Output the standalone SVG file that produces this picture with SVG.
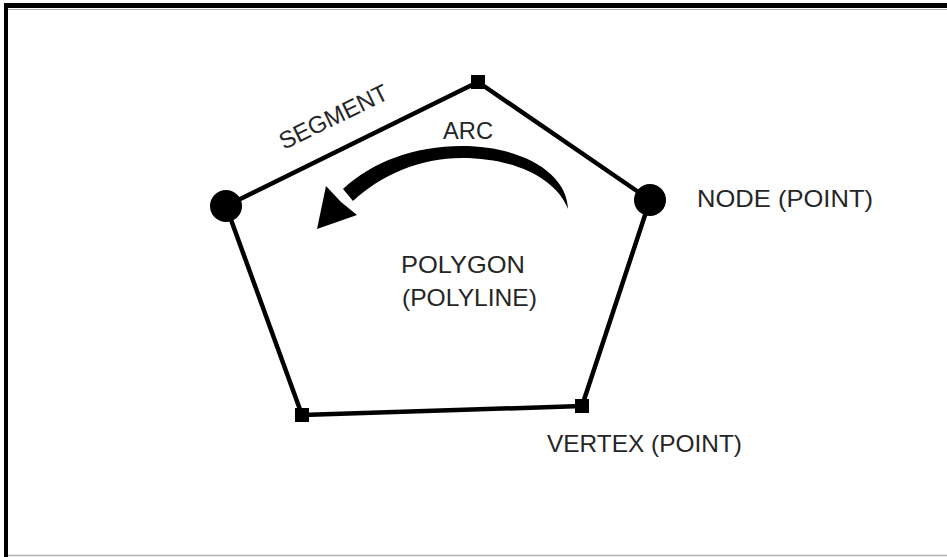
<svg xmlns="http://www.w3.org/2000/svg" width="947" height="557" viewBox="0 0 947 557">
  <style>
    .edge { stroke: #000; stroke-width: 4.5; fill: none; stroke-linecap: round; }
    .node { fill: #000; }
    .label { font-family: "Liberation Sans", Arial, sans-serif; font-size: 24px; fill: #262626; }
  </style>

  <!-- page frame -->
  <rect x="0" y="0" width="947" height="557" fill="#fff"/>
  <rect x="4" y="3" width="943" height="5" fill="#000"/>
  <rect x="4" y="3" width="4" height="554" fill="#000"/>
  <line x1="8" y1="9.5" x2="947" y2="9.5" stroke="#b0b0b0" stroke-width="1"/>
  <line x1="8" y1="555.5" x2="947" y2="555.5" stroke="#b0b0b0" stroke-width="1.5"/>

  <!-- polygon segments -->
  <g id="connectors">
    <line class="edge" x1="478" y1="82" x2="650" y2="200"/>
    <line class="edge" x1="650" y1="200" x2="582" y2="406"/>
    <line class="edge" x1="582" y1="406" x2="302" y2="415"/>
    <line class="edge" x1="302" y1="415" x2="226" y2="206"/>
    <line class="edge" x1="226" y1="206" x2="478" y2="82"/>
  </g>

  <!-- points -->
  <g id="vertex-top"><rect class="node" x="471" y="75" width="14" height="14"/></g>
  <g id="node-right"><circle class="node" cx="650" cy="200" r="16"/></g>
  <g id="vertex-bottom-right"><rect class="node" x="575" y="399" width="14" height="14"/></g>
  <g id="vertex-bottom-left"><rect class="node" x="295" y="408" width="14" height="14"/></g>
  <g id="node-left"><circle class="node" cx="226" cy="206" r="16"/></g>

  <!-- curved arc arrow -->
  <g id="arc">
    <path class="node" d="M 568,209 C 567,172 520,146 462,146 C 414,146 372,162 343,189 L 353,201 C 381,175 420,158 462,158 C 514,158 556,178 568,209 Z"/>
    <polygon class="node" points="317,229 326,186 341,202 357,215"/>
  </g>

  <!-- labels -->
  <g id="labels">
    <text class="label" transform="translate(284,150) rotate(-26)" textLength="118" lengthAdjust="spacingAndGlyphs">SEGMENT</text>
    <text class="label" x="443" y="139" textLength="50" lengthAdjust="spacingAndGlyphs">ARC</text>
    <text class="label" x="697" y="207" textLength="176" lengthAdjust="spacingAndGlyphs">NODE (POINT)</text>
    <text class="label" x="401" y="273" textLength="124" lengthAdjust="spacingAndGlyphs">POLYGON</text>
    <text class="label" x="402" y="306" textLength="135" lengthAdjust="spacingAndGlyphs">(POLYLINE)</text>
    <text class="label" x="547" y="452" textLength="195" lengthAdjust="spacingAndGlyphs">VERTEX (POINT)</text>
  </g>
</svg>
